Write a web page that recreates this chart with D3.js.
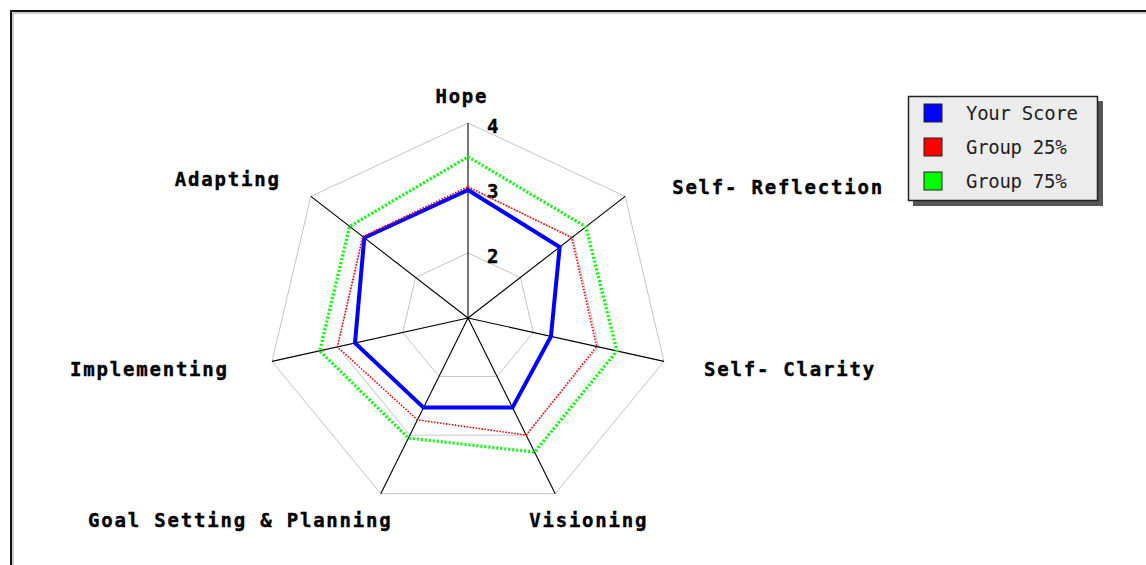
<!DOCTYPE html>
<html>
<head>
<meta charset="utf-8">
<script src="https://cdn.jsdelivr.net/npm/d3@7"></script>
<style>
  body { margin: 0; background: #fff; }
  svg { display: block; }
  text { font-family: "DejaVu Sans Mono", "Liberation Mono", monospace; }
</style>
</head>
<body>
<svg id="chart"></svg>
<script>
// values
const axes = ['Hope', 'Self- Reflection', 'Self- Clarity', 'Visioning',
    'Goal Setting & Planning', 'Implementing', 'Adapting']
const yourScore = [2.97, 2.75, 2.27, 2.53, 2.53, 2.73, 2.98]
const group25 = [3.02, 2.98, 2.97, 3.0, 2.74, 3.0, 3.01]
const group75 = [3.48, 3.25, 3.28, 3.29, 3.05, 3.27, 3.26]
const ringTicks = [2, 3, 4]
const seriesNames = ['Your Score', 'Group 25%', 'Group 75%']
const seriesColors = ['#0000ff', '#ff0000', '#00ff00']

const W = 1146, H = 565
const cx = 468, cy = 318
const rx = 201, ry = 195

const svg = d3.select('#chart').attr('width', W).attr('height', H)

// outer frame (runs off right/bottom)
svg.append('rect')
    .attr('x', 11).attr('y', 11).attr('width', W + 20).attr('height', H + 20)
    .attr('fill', 'none').attr('stroke', '#111').attr('stroke-width', 2)
svg.append('rect')
    .attr('x', 13).attr('y', 13).attr('width', W + 20).attr('height', H + 20)
    .attr('fill', 'none').attr('stroke', '#999').attr('stroke-width', 1)

const r = d3.scaleLinear().domain([1, 4]).range([0, 1])
const angle = d3.scaleLinear().domain([0, axes.length]).range([0, 2 * Math.PI])

const px = (i, v) => cx + rx * r(v) * Math.sin(angle(i))
const py = (i, v) => cy - ry * r(v) * Math.cos(angle(i))

const g = svg.append('g')

// grid rings
const ring = d3.line().curve(d3.curveLinearClosed)
ringTicks.forEach(t => {
    g.append('path')
        .attr('d', ring(axes.map((a, i) => [px(i, t), py(i, t)])))
        .attr('fill', 'none')
        .attr('stroke', '#c4c4c4')
        .attr('stroke-width', 1)
})

// spokes
g.selectAll('line.spoke').data(axes).enter().append('line')
    .attr('class', 'spoke')
    .attr('x1', cx).attr('y1', cy)
    .attr('x2', (d, i) => px(i, 4))
    .attr('y2', (d, i) => py(i, 4))
    .attr('stroke', '#000').attr('stroke-width', 1.1)

// tick labels along Hope axis
g.selectAll('text.tick').data(ringTicks).enter().append('text')
    .attr('class', 'tick')
    .attr('x', cx + 19)
    .attr('y', d => py(0, d) + 3)
    .attr('dominant-baseline', 'central')
    .attr('font-size', 19).attr('font-weight', 'bold')
    .attr('stroke', '#000').attr('stroke-width', 0.4)
    .text(d => d)

// axis titles: [dx, dy, anchor] relative to outer vertex
const labelPlace = [
    [-7, -27, 'middle'],
    [47, -9, 'start'],
    [40, 8, 'start'],
    [-26, 26, 'start'],
    [10, 26, 'end'],
    [-45, 8, 'end'],
    [-32, -17, 'end']
]
g.selectAll('text.axis').data(axes).enter().append('text')
    .attr('class', 'axis')
    .attr('x', (d, i) => px(i, 4) + labelPlace[i][0])
    .attr('y', (d, i) => py(i, 4) + labelPlace[i][1])
    .attr('text-anchor', (d, i) => labelPlace[i][2])
    .attr('dominant-baseline', 'central')
    .attr('font-size', 19).attr('font-weight', 'bold')
    .attr('stroke', '#000').attr('stroke-width', 0.4)
    .attr('textLength', d => d.length * 13.25 - 2)
    .attr('lengthAdjust', 'spacing')
    .text(d => d)

// series
const series = [yourScore, group25, group75]
const styles = [
    { width: 4, dash: null },
    { width: 1.6, dash: '1.5,1.5' },
    { width: 3.2, dash: '2,2' }
]
series.forEach((vals, s) => {
    g.append('path')
        .attr('d', ring(vals.map((v, i) => [px(i, v), py(i, v)])))
        .attr('fill', 'none')
        .attr('stroke', seriesColors[s])
        .attr('stroke-width', styles[s].width)
        .attr('stroke-dasharray', styles[s].dash)
        .attr('stroke-linejoin', 'miter')
})

// legend
const lg = svg.append('g').attr('transform', 'translate(908,96)')
lg.append('rect')
    .attr('x', 5).attr('y', 5).attr('width', 190).attr('height', 105)
    .attr('fill', '#555')
lg.append('rect')
    .attr('x', 0.5).attr('y', 0.5).attr('width', 189).attr('height', 104)
    .attr('fill', '#ececec').attr('stroke', '#222').attr('stroke-width', 1.5)
const rows = lg.selectAll('g.row').data(seriesNames).enter().append('g')
    .attr('class', 'row')
    .attr('transform', (d, i) => `translate(0,${17 + i * 34})`)
rows.append('rect')
    .attr('x', 16).attr('y', -9).attr('width', 18).attr('height', 18)
    .attr('fill', (d, i) => seriesColors[i])
    .attr('stroke', '#222').attr('stroke-width', 1)
rows.append('text')
    .attr('x', 58).attr('y', 0)
    .attr('dominant-baseline', 'central')
    .attr('font-size', 19).attr('fill', '#222')
    .attr('textLength', d => d.length * 11.4 - 2)
    .attr('lengthAdjust', 'spacing')
    .text(d => d)
</script>
</body>
</html>
